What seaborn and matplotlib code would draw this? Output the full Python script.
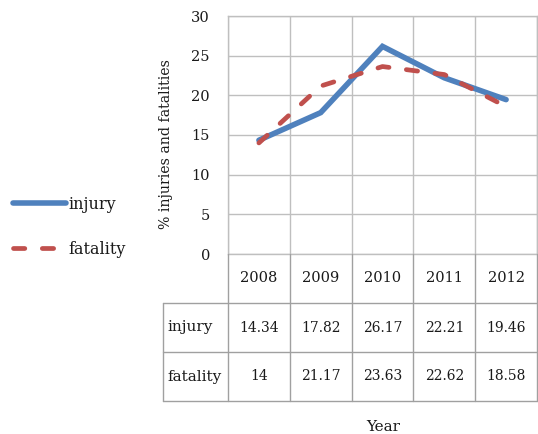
import pandas as pd
import seaborn as sns
import matplotlib.pyplot as plt

sns.set_style("white")
plt.rcParams['font.family'] = ['DejaVu Serif']
plt.rcParams['lines.dash_capstyle'] = 'round'

# %% Data

years = ['2008', '2009', '2010', '2011', '2012']
injury = [14.34, 17.82, 26.17, 22.21, 19.46]
fatality = [14, 21.17, 23.63, 22.62, 18.58]
yticks = [0, 5, 10, 15, 20, 25, 30]

data = pd.DataFrame({
    'pos': list(range(len(years))) * 2,
    'value': injury + fatality,
    'series': ['injury'] * len(years) + ['fatality'] * len(years),
})

# %% Plot

W, H = 538, 434
fig = plt.figure(figsize=(W / 100, H / 100), dpi=100)


def px_axes(x0, y0, x1, y1):
    return fig.add_axes([x0 / W, 1 - y1 / H, (x1 - x0) / W, (y1 - y0) / H])


grid_col = '#BFBFBF'
text_col = '#1a1a1a'
blue, red = '#4F81BD', '#C0504D'
dash = (2.4, 3.7)
widths = {'injury': 4.0, 'fatality': 3.4}

ax = px_axes(228, 16, 537, 254)
sns.lineplot(
    data=data, x='pos', y='value', hue='series', style='series',
    palette={'injury': blue, 'fatality': red},
    dashes={'injury': '', 'fatality': dash},
    linewidth=3.4, ax=ax, sort=False,
)
for ln, name in zip(ax.get_lines(), ['injury', 'fatality']):
    ln.set_linewidth(widths[name])
    ln.set_dash_capstyle('round')
    ln.set_solid_capstyle('round')
    ln.set_solid_joinstyle('miter')

ax.set_xlim(-0.5, len(years) - 0.5)
ax.set_ylim(0, 30)
ax.set_yticks(yticks)
ax.set_yticklabels([str(t) for t in yticks], fontsize=10.5, color=text_col)
ax.set_xticks([i - 0.5 for i in range(len(years) + 1)])
ax.set_xticklabels([])
ax.tick_params(axis='both', length=0, pad=13)
ax.grid(True, color=grid_col, linewidth=1)
for sp in ax.spines.values():
    sp.set_color(grid_col)
    sp.set_linewidth(1)
ax.set_xlabel('')
ax.set_ylabel('% injuries and fatalities', fontsize=10.2, color=text_col)
ax.yaxis.set_label_coords(-0.178, 0.462)

handles, labels = ax.get_legend_handles_labels()
ax.get_legend().remove()
leg = fig.legend(
    handles, labels, loc='center left', bbox_to_anchor=(13 / W, 1 - 227 / H),
    frameon=False, fontsize=11.5, handlelength=3.3, handletextpad=0.15,
    labelspacing=1.75, borderpad=0, borderaxespad=0,
)
for h, t in zip(leg.get_lines(), leg.get_texts()):
    h.set_linewidth(widths[t.get_text()])
    h.set_dash_capstyle('round')
    h.set_solid_capstyle('round')
    t.set_color(text_col)

# %% Data table under the chart

tab_col = '#A0A0A0'
tab = px_axes(163, 254, 537, 401)
left = -0.5 - 65 / 61.8
tab.set_xlim(left, len(years) - 0.5)
tab.set_ylim(3, 0)
tab.axis('off')

n = len(years)
for yy in [1, 2, 3]:
    tab.plot([left, n - 0.5], [yy, yy], color=tab_col, lw=1, clip_on=False)
tab.plot([left, left], [1, 3], color=tab_col, lw=1, clip_on=False)
for i in range(n + 1):
    tab.plot([i - 0.5, i - 0.5], [0, 3], color=tab_col, lw=1, clip_on=False)

for i, yr in enumerate(years):
    tab.text(i, 0.5, yr, ha='center', va='center', fontsize=10.5, color=text_col)
    tab.text(i, 1.5, f'{injury[i]:g}', ha='center', va='center', fontsize=10, color=text_col)
    tab.text(i, 2.5, f'{fatality[i]:g}', ha='center', va='center', fontsize=10, color=text_col)
tab.text(left + 0.07, 1.5, 'injury', ha='left', va='center', fontsize=11, color=text_col)
tab.text(left + 0.07, 2.5, 'fatality', ha='left', va='center', fontsize=11, color=text_col)

fig.text(383 / W, 1 - 427 / H, 'Year', ha='center', va='center', fontsize=11, color=text_col)

plt.savefig('out.png', dpi=100)
